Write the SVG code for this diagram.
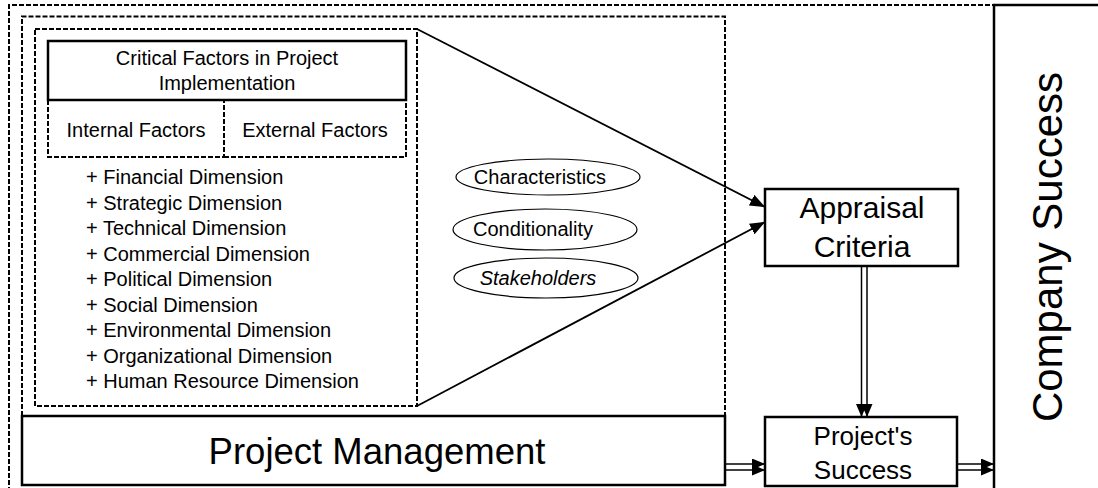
<svg xmlns="http://www.w3.org/2000/svg" width="1098" height="488" viewBox="0 0 1098 488">
  <style>
    text { font-family: "Liberation Sans", Arial, sans-serif; fill: #000; }
    .dash { fill: none; stroke: #000; stroke-width: 2; stroke-dasharray: 5 2; }
    .box { fill: #fff; stroke: #000; stroke-width: 2.5; }
    .solid { fill: none; stroke: #000; stroke-width: 2.5; }
    .ell { fill: #fff; stroke: #000; stroke-width: 1.2; }
    .s20 { font-size: 20px; }
    .line { fill: none; stroke: #000; stroke-width: 1.8; }
    .dbl { fill: none; stroke: #000; stroke-width: 1.5; }
  </style>
  <defs>
    <marker id="arr" markerUnits="userSpaceOnUse" markerWidth="15" markerHeight="12" refX="15" refY="6" orient="auto">
      <path d="M0,0 L15,6 L0,12 z" fill="#000"/>
    </marker>
    <marker id="arrs" markerUnits="userSpaceOnUse" markerWidth="13" markerHeight="11" refX="13" refY="5.5" orient="auto">
      <path d="M0,0 L13,5.5 L0,11 z" fill="#000"/>
    </marker>
  </defs>

  <g id="outer-frame">
    <path class="dash" d="M9,492 V5 H994"/>
  </g>

  <g id="company-success">
    <path class="solid" d="M994,492 V5 H1100"/>
    <text transform="translate(1062,247) rotate(-90)" text-anchor="middle" font-size="42">Company Success</text>
  </g>

  <g id="pm-frame">
    <path class="dash" d="M22,416 V16.5 H725 V416"/>
  </g>

  <g id="factors-frame">
    <rect class="dash" x="35" y="29" width="382" height="377"/>
  </g>

  <g id="critical-factors">
    <rect class="box" x="48" y="41" width="358" height="59"/>
    <text class="s20" x="227" y="65" text-anchor="middle">Critical Factors in Project</text>
    <text class="s20" x="227" y="90" text-anchor="middle">Implementation</text>
  </g>

  <g id="internal-factors">
    <path class="dash" d="M48,100 V157 H224 V100"/>
    <text class="s20" x="136" y="137" text-anchor="middle">Internal Factors</text>
  </g>

  <g id="external-factors">
    <path class="dash" d="M224,157 H406 V100"/>
    <text class="s20" x="315" y="137" text-anchor="middle">External Factors</text>
  </g>

  <g id="dimensions">
    <text class="s20" x="86" y="184">+ Financial Dimension</text>
    <text class="s20" x="86" y="209.5">+ Strategic Dimension</text>
    <text class="s20" x="86" y="235">+ Technical Dimension</text>
    <text class="s20" x="86" y="260.5">+ Commercial Dimension</text>
    <text class="s20" x="86" y="286">+ Political Dimension</text>
    <text class="s20" x="86" y="311.5">+ Social Dimension</text>
    <text class="s20" x="86" y="337">+ Environmental Dimension</text>
    <text class="s20" x="86" y="362.5">+ Organizational Dimension</text>
    <text class="s20" x="86" y="388">+ Human Resource Dimension</text>
  </g>

  <g id="characteristics">
    <ellipse class="ell" cx="548" cy="177" rx="92" ry="18"/>
    <text class="s20" x="540" y="184" text-anchor="middle">Characteristics</text>
  </g>
  <g id="conditionality">
    <ellipse class="ell" cx="545" cy="229.5" rx="92" ry="20.5"/>
    <text class="s20" x="533" y="236" text-anchor="middle">Conditionality</text>
  </g>
  <g id="stakeholders">
    <ellipse class="ell" cx="546" cy="278" rx="92" ry="20"/>
    <text class="s20" x="538" y="285" text-anchor="middle" font-style="italic">Stakeholders</text>
  </g>

  <g id="appraisal-criteria">
    <rect class="box" x="765" y="189" width="193" height="77"/>
    <text x="862" y="218" text-anchor="middle" font-size="30">Appraisal</text>
    <text x="862" y="257" text-anchor="middle" font-size="30">Criteria</text>
  </g>

  <g id="project-management">
    <rect class="box" x="22" y="416" width="703" height="69"/>
    <text x="377" y="464" text-anchor="middle" font-size="36.5">Project Management</text>
  </g>

  <g id="projects-success">
    <rect class="box" x="765" y="417" width="192" height="69"/>
    <text x="863" y="445" text-anchor="middle" font-size="26">Project's</text>
    <text x="863" y="479" text-anchor="middle" font-size="26">Success</text>
  </g>

  <g id="connectors">
    <line class="line" x1="417" y1="29" x2="765" y2="207" marker-end="url(#arr)"/>
    <line class="line" x1="417" y1="406" x2="765" y2="222" marker-end="url(#arr)"/>
    <line class="dbl" x1="861.5" y1="266" x2="861.5" y2="417" marker-end="url(#arrs)"/>
    <line class="dbl" x1="867" y1="266" x2="867" y2="417" marker-end="url(#arrs)"/>
    <line class="dbl" x1="725" y1="464" x2="765" y2="464" marker-end="url(#arrs)"/>
    <line class="dbl" x1="725" y1="470" x2="765" y2="470" marker-end="url(#arrs)"/>
    <line class="dbl" x1="957" y1="464" x2="994" y2="464" marker-end="url(#arrs)"/>
    <line class="dbl" x1="957" y1="470" x2="994" y2="470" marker-end="url(#arrs)"/>
  </g>
</svg>
